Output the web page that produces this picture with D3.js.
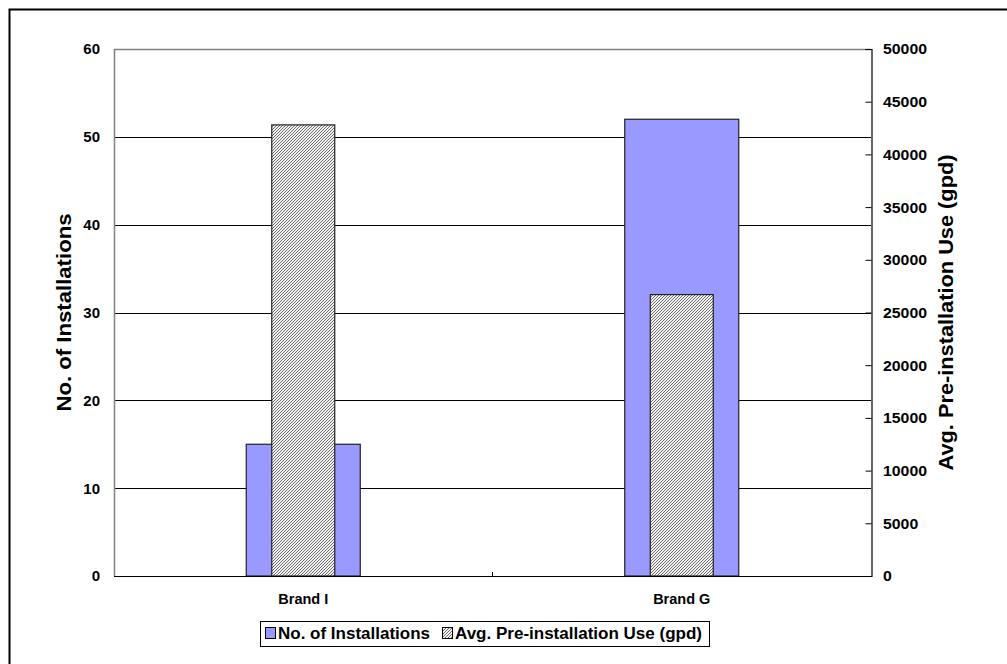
<!DOCTYPE html>
<html><head><meta charset="utf-8">
<script src="https://cdn.jsdelivr.net/npm/d3@7"></script>
<style>body{margin:0;background:#fff}svg{display:block;font-family:Arial,"Liberation Sans",sans-serif}</style>
</head><body><svg id="c" width="1007" height="664"></svg>
<script>
const categories = ["Brand I", "Brand G"];
const installations = [15, 52];
const preUse = [42800, 26700];
const leftTicks = [0, 10, 20, 30, 40, 50, 60];
const rightTicks = [0, 5000, 10000, 15000, 20000, 25000, 30000, 35000, 40000, 45000, 50000];
const seriesNames = ["No. of Installations", "Avg. Pre-installation Use (gpd)"];

const svg = d3.select("#c");
const L = 114, R = 871, T = 49, B = 576;

const defs = svg.append("defs");
const pat = defs.append("pattern").attr("id", "hatch").attr("patternUnits", "userSpaceOnUse")
  .attr("width", 3).attr("height", 3);
pat.append("rect").attr("width", 3).attr("height", 3).attr("fill", "#f4f4f4");
[[2, 0], [1, 1], [0, 2]].forEach(([px, py]) =>
  pat.append("rect").attr("x", px).attr("y", py).attr("width", 1).attr("height", 1).attr("fill", "#6a6a6a"));

// outer border (extends beyond canvas on right/bottom)
svg.append("rect").attr("x", 9.5).attr("y", 9.5).attr("width", 1100).attr("height", 1100)
  .attr("fill", "none").attr("stroke", "#000").attr("stroke-width", 2);

const x = d3.scaleBand().domain(categories).range([L, R]);
const yL = d3.scaleLinear().domain([0, 60]).range([B, T]);
const yR = d3.scaleLinear().domain([0, 50000]).range([B, T]);

// gridlines
svg.append("g").selectAll("line").data(leftTicks.filter(d => d > 0 && d < 60)).join("line")
  .attr("x1", L).attr("x2", R).attr("y1", d => Math.round(yL(d)) + 0.5).attr("y2", d => Math.round(yL(d)) + 0.5)
  .attr("stroke", "#000").attr("stroke-width", 1);

// plot frame: top and left gray
svg.append("path").attr("d", `M${L + 0.5},${B}V${T + 0.5}H${R}`).attr("fill", "none").attr("stroke", "#808080").attr("stroke-width", 1.5);

// bars
const bw1 = 114, bw2 = 63;
svg.append("g").selectAll("rect").data(categories).join("rect")
  .attr("x", d => x(d) + x.bandwidth() / 2 - bw1 / 2)
  .attr("width", bw1)
  .attr("y", (d, i) => yL(installations[i]))
  .attr("height", (d, i) => B - yL(installations[i]))
  .attr("fill", "#9999ff").attr("stroke", "#222").attr("stroke-width", 1.2);
svg.append("g").selectAll("rect").data(categories).join("rect")
  .attr("x", d => x(d) + x.bandwidth() / 2 - bw2 / 2)
  .attr("width", bw2)
  .attr("y", (d, i) => yR(preUse[i]))
  .attr("height", (d, i) => B - yR(preUse[i]))
  .attr("fill", "url(#hatch)").attr("stroke", "#222").attr("stroke-width", 1.2);

// bottom axis line
svg.append("line").attr("x1", L).attr("x2", R + 1).attr("y1", B + 0.5).attr("y2", B + 0.5).attr("stroke", "#000").attr("stroke-width", 1.2);
// category divider tick
svg.append("line").attr("x1", L + x.bandwidth()).attr("x2", L + x.bandwidth()).attr("y1", B - 4).attr("y2", B).attr("stroke", "#000");

// right axis
const rAxis = svg.append("g").attr("transform", `translate(${R + 0.5},0)`)
  .call(d3.axisLeft(yR).tickValues(rightTicks).tickSize(6).tickFormat(""));
rAxis.select(".domain").attr("stroke", "#000").attr("stroke-width", 1.2);
svg.append("g").selectAll("text").data(rightTicks).join("text")
  .attr("x", R + 12).attr("y", d => yR(d)).attr("dy", "0.36em")
  .attr("font-size", 15).attr("font-weight", "bold")
  .attr("textLength", d => String(d).length * 8.8).attr("lengthAdjust", "spacingAndGlyphs")
  .text(d => d);

// left tick labels
svg.append("g").selectAll("text").data(leftTicks).join("text")
  .attr("x", 100).attr("y", d => yL(d)).attr("dy", "0.36em").attr("text-anchor", "end")
  .attr("font-size", 15).attr("font-weight", "bold").text(d => d);

// category labels
svg.append("g").selectAll("text").data(categories).join("text")
  .attr("x", d => x(d) + x.bandwidth() / 2).attr("y", 604).attr("text-anchor", "middle")
  .attr("font-size", 14.5).attr("font-weight", "bold").text(d => d);

// axis titles
svg.append("text").attr("transform", `translate(71,${(T + B) / 2}) rotate(-90)`).attr("text-anchor", "middle")
  .attr("font-size", 20).attr("font-weight", "bold")
  .attr("textLength", 198).attr("lengthAdjust", "spacingAndGlyphs").text(seriesNames[0]);
svg.append("text").attr("transform", `translate(953,${(T + B) / 2}) rotate(-90)`).attr("text-anchor", "middle")
  .attr("font-size", 20).attr("font-weight", "bold")
  .attr("textLength", 316).attr("lengthAdjust", "spacingAndGlyphs").text(seriesNames[1]);

// legend
const lg = svg.append("g");
lg.append("rect").attr("x", 260.5).attr("y", 621.5).attr("width", 449).attr("height", 25)
  .attr("fill", "#fff").attr("stroke", "#000").attr("stroke-width", 1);
const items = [{name: seriesNames[0], fill: "#9999ff", x: 265, tl: 152}, {name: seriesNames[1], fill: "url(#hatch)", x: 442, tl: 247}];
items.forEach(it => {
  lg.append("rect").attr("x", it.x + 0.5).attr("y", 627.5).attr("width", 10).attr("height", 11)
    .attr("fill", it.fill).attr("stroke", "#000").attr("stroke-width", 1);
  lg.append("text").attr("x", it.x + 13).attr("y", 639).attr("font-size", 16).attr("font-weight", "bold")
    .attr("textLength", it.tl).attr("lengthAdjust", "spacingAndGlyphs").text(it.name);
});
</script></body></html>
